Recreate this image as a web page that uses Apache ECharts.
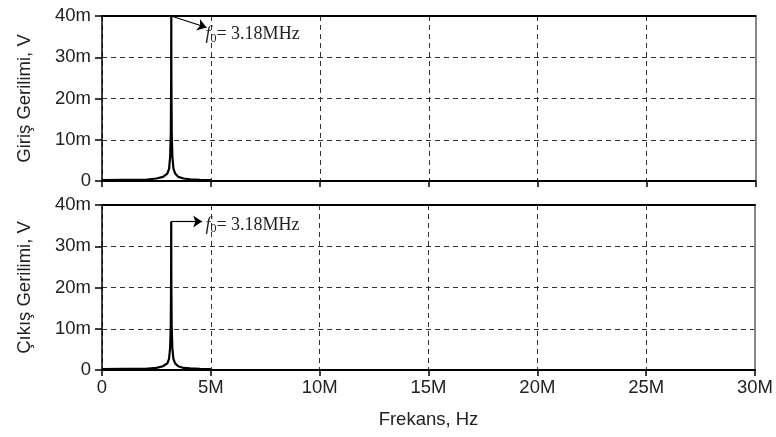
<!DOCTYPE html>
<html>
<head>
<meta charset="utf-8">
<script src="https://cdn.jsdelivr.net/npm/echarts@6/dist/echarts.min.js"></script>
<style>
html,body{margin:0;padding:0;background:#fff;}
#chart{width:776px;height:437px;}
</style>
</head>
<body>
<div id="chart"></div>
<script>
// Frequency points (Hz)
const freqHz = [0, 1.0e6, 2.0e6, 2.5e6, 2.8e6, 3.0e6, 3.08e6, 3.13e6, 3.16e6, 3.175e6, 3.18e6, 3.185e6, 3.2e6, 3.23e6, 3.28e6, 3.36e6, 3.5e6, 3.75e6, 4.05e6, 4.5e6, 5.0e6];
// Input voltage (V)
const inputV = [0.0002, 0.00025, 0.0003, 0.0006, 0.001, 0.0018, 0.003, 0.006, 0.012, 0.025, 0.040, 0.025, 0.012, 0.006, 0.003, 0.0018, 0.001, 0.0006, 0.0004, 0.0003, 0.0002];
// Output voltage (V)
const outputV = [0.0002, 0.00025, 0.0003, 0.0005, 0.0009, 0.0016, 0.0027, 0.0054, 0.011, 0.0225, 0.036, 0.0225, 0.011, 0.0054, 0.0027, 0.0016, 0.0009, 0.0005, 0.0004, 0.0003, 0.0002];
// Axis ranges / ticks
const xMin = 0, xMax = 30e6, xStep = 5e6;
const yMin = 0, yMax = 0.04, yStep = 0.01;
// Annotation
const f0Hz = 3.18e6;
const annText = '3.18MHz';
const yNames = ['Giriş Gerilimi, V', 'Çıkış Gerilimi, V'];
const xName = 'Frekans, Hz';

const sans = '"Liberation Sans", Arial, sans-serif';
const serif = '"Liberation Serif", "Times New Roman", serif';
const dash = {type: [5, 4], color: '#333', width: 1};
const FS = 18.5;

function xFmt(v){ return v === 0 ? '0' : Math.round(v / 1e6) + 'M'; }
function yFmt(v){ return v === 0 ? '0' : Math.round(v * 1000) + 'm'; }

const grids = [
  {left: 102, right: 20.5, top: 16, height: 165},
  {left: 102, right: 20.5, top: 205, height: 165}
];

function mkX(gi, showLabels){
  return [{
    type: 'value', gridIndex: gi, min: xMin, max: xMax, interval: xStep, position: 'bottom',
    axisLine: {show: true, onZero: false, lineStyle: {color: '#000', width: 2}},
    axisTick: {show: true, inside: false, length: 6, lineStyle: {color: '#000', width: 1.5}},
    axisLabel: {show: showLabels, color: '#222', fontFamily: sans, fontSize: FS, margin: 8, formatter: xFmt},
    splitLine: {show: true, lineStyle: dash},
    name: showLabels ? xName : '', nameLocation: 'middle', nameGap: 40,
    nameTextStyle: {color: '#222', fontFamily: sans, fontSize: FS}
  },{
    type: 'value', gridIndex: gi, min: xMin, max: xMax, interval: xStep, position: 'top',
    axisLine: {show: true, onZero: false, lineStyle: {color: '#000', width: 2}},
    axisTick: {show: false}, axisLabel: {show: false}, splitLine: {show: false}
  }];
}
function mkY(gi){
  return [{
    type: 'value', gridIndex: gi, min: yMin, max: yMax, interval: yStep, position: 'left',
    axisLine: {show: true, onZero: false, lineStyle: {color: '#000', width: 1.5}},
    axisTick: {show: true, inside: false, length: 7, lineStyle: {color: '#000', width: 1.5}},
    axisLabel: {color: '#222', fontFamily: sans, fontSize: FS, margin: 11, formatter: yFmt},
    splitLine: {show: true, lineStyle: dash},
    name: yNames[gi], nameLocation: 'middle', nameGap: 68, nameRotate: 90,
    nameTextStyle: {color: '#222', fontFamily: sans, fontSize: FS}
  },{
    type: 'value', gridIndex: gi, min: yMin, max: yMax, interval: yStep, position: 'right',
    axisLine: {show: true, onZero: false, lineStyle: {color: '#888', width: 2}},
    axisTick: {show: false}, axisLabel: {show: false}, splitLine: {show: false}
  }];
}

function pairs(ys){ return freqHz.map((f, i) => [f, ys[i]]); }

const richLabel = {
  formatter: '{f|f}{s|0}{t|= ' + annText + '}',
  rich: {
    f: {fontFamily: serif, fontStyle: 'italic', fontSize: 18, color: '#222', lineHeight: 20, verticalAlign: 'middle'},
    s: {fontFamily: serif, fontSize: 12, color: '#222', lineHeight: 13, verticalAlign: 'bottom'},
    t: {fontFamily: serif, fontSize: 18, color: '#222', lineHeight: 20, verticalAlign: 'middle'}
  },
  position: 'right', distance: 0
};

function mkSeries(ys, xi, yi, arrowFrom, arrowTo, textAt){
  return {
    type: 'line', xAxisIndex: xi, yAxisIndex: yi, data: pairs(ys),
    showSymbol: false, symbol: 'none', smooth: false, animation: false,
    lineStyle: {color: '#000', width: 2.2},
    markLine: {
      silent: true, animation: false, symbol: ['none', 'arrow'], symbolSize: 9,
      lineStyle: {color: '#000', width: 1.2, type: 'solid'}, label: {show: false},
      data: [[{coord: arrowFrom}, {coord: arrowTo}]]
    },
    markPoint: {
      silent: true, animation: false, symbol: 'circle', symbolSize: 0,
      label: Object.assign({show: true}, richLabel),
      data: [{coord: textAt}]
    }
  };
}

const chart = echarts.init(document.getElementById('chart'), null, {renderer: 'canvas'});
chart.setOption({
  backgroundColor: '#fff',
  animation: false,
  grid: grids,
  xAxis: mkX(0, false).concat(mkX(1, true)),
  yAxis: mkY(0).concat(mkY(1)),
  series: [
    mkSeries(inputV, 0, 0, [f0Hz, 0.040], [4.8e6, 0.0372], [4.75e6, 0.0355]),
    mkSeries(outputV, 2, 2, [f0Hz, 0.036], [4.6e6, 0.036], [4.75e6, 0.0351])
  ]
});
</script>
</body>
</html>
